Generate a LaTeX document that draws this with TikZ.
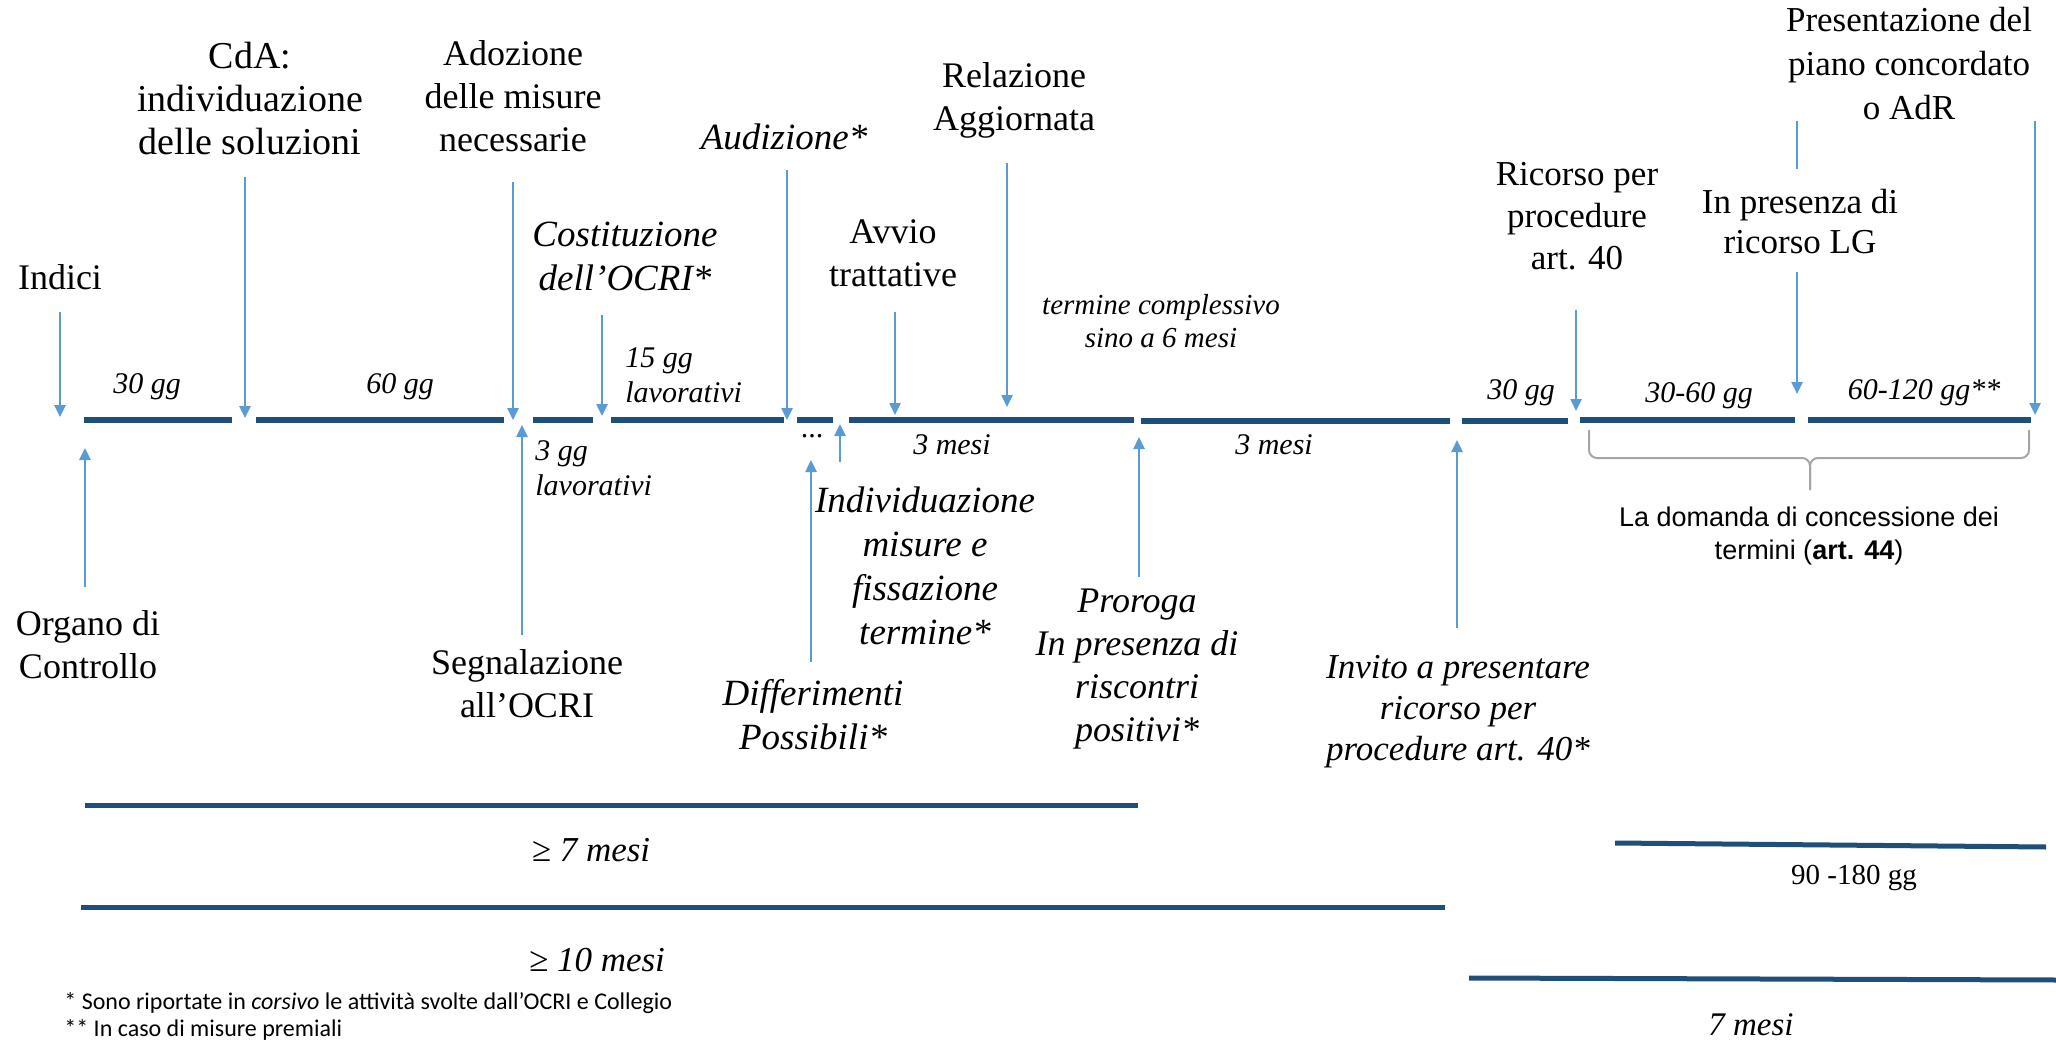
\documentclass[tikz,border=0pt]{standalone}
\usepackage{fontspec}
\setmainfont{Liberation Serif}
\newfontfamily\arialfont{Liberation Sans}
\newfontfamily\calibrifont{Carlito}
\usetikzlibrary{arrows.meta}

\definecolor{barblue}{RGB}{31,78,121}
\definecolor{arrowblue}{RGB}{91,155,213}
\definecolor{bracegrey}{RGB}{166,166,166}

\begin{document}
\begin{tikzpicture}[%
    x=0.5pt, y=-0.5pt,
    event/.style={%
        align=center,
        inner sep=0pt,
        font=\fontsize{18}{21.5}\selectfont
    },
    ocri/.style={%
        align=center,
        inner sep=0pt,
        font=\fontsize{18.5}{22}\selectfont\itshape
    },
    span/.style={%
        align=center,
        inner sep=0pt,
        font=\fontsize{15}{17.5}\selectfont\itshape
    },
    total/.style={%
        inner sep=0pt,
        font=\fontsize{17.5}{21}\selectfont\itshape
    },
    footnote/.style={%
        anchor=west,
        inner sep=0pt,
        font=\fontsize{12}{13.5}\selectfont\calibrifont
    },
    bar/.style={line width=3pt, barblue},
    totalBar/.style={line width=2.5pt, barblue},
    evLine/.style={line width=1.25pt, arrowblue},
    evArrow/.style={evLine, -{Triangle[width=5.5pt,length=6pt]}},
    brace/.style={line width=1pt, bracegrey, rounded corners=4pt}
]
\useasboundingbox (0,0) rectangle (2056,1048);

% Timeline
    \draw[bar] (84,420) -- (232,420);
    \draw[bar] (256,420) -- (504,420);
    \draw[bar] (533,420) -- (593,420);
    \draw[bar] (611,420) -- (784,420);
    \draw[bar] (797,420) -- (833,420);
    \draw[bar] (849,420) -- (1134,420);
    \draw[bar] (1141,421) -- (1450,421);
    \draw[bar] (1462,421) -- (1568,421);
    \draw[bar] (1580,420) -- (1795,420);
    \draw[bar] (1808,420) -- (2031,420);

% Events above the timeline
    \node[event] (indici) at (60,277) {Indici};
    \node[event, font=\fontsize{19}{21.5}\selectfont] (cda) at (250,99) {CdA:\\individuazione\\delle soluzioni};
    \node[event] (adozione) at (513,96) {Adozione\\delle misure\\necessarie};
    \node[ocri] (costituzione) at (625,256) {Costituzione\\dell’OCRI*};
    \node[ocri] (audizione) at (784,137) {Audizione*};
    \node[event] (avvio) at (893,253) {Avvio\\trattative};
    \node[event] (relazione) at (1014,100) {Relazione\\Aggiornata};
    \node[event, font=\fontsize{17.5}{21}\selectfont] (ricorso) at (1577,216) {Ricorso per\\procedure\\art. 40};
    \node[event, font=\fontsize{17.5}{20}\selectfont] (ricorsoLG) at (1800,222) {In presenza di\\ricorso LG};
    \node[event, font=\fontsize{17.5}{22}\selectfont] (piano) at (1909,64) {Presentazione del\\piano concordato\\o AdR};

% Durations
    \node[span] (gg30a) at (147,387) {30 gg};
    \node[span] (gg60) at (400,387) {60 gg};
    \node[span, align=left, anchor=west] (gg15) at (625,375) {15 gg\\lavorativi};
    \node[span, align=left, anchor=west] (gg3) at (535,468) {3 gg\\lavorativi};
    \node[span, font=\fontsize{15}{17}\selectfont] (dots) at (812,436) {...};
    \node[span] (mesi3a) at (952,445) {3 mesi};
    \node[span] (mesi3b) at (1274,445) {3 mesi};
    \node[span, font=\fontsize{14.5}{16.5}\selectfont\itshape] (termine) at (1161,321) {termine complessivo\\sino a 6 mesi};
    \node[span] (gg30b) at (1521,393) {30 gg};
    \node[span] (gg3060) at (1699,396) {30-60 gg};
    \node[span] (gg60120) at (1924,393) {60-120 gg**};

% Events below the timeline
    \node[event] (organo) at (88,645) {Organo di\\Controllo};
    \node[event] (segnalazione) at (527,684) {Segnalazione\\all’OCRI};
    \node[ocri] (differimenti) at (813,715) {Differimenti\\Possibili*};
    \node[ocri] (individuazione) at (925,566) {Individuazione\\misure e\\fissazione\\termine*};
    \node[ocri, font=\fontsize{18}{21.5}\selectfont\itshape] (proroga) at (1137,669) {Proroga\\In presenza di\\riscontri\\positivi*};
    \node[ocri, font=\fontsize{17.5}{20.5}\selectfont\itshape] (invito) at (1458,712) {Invito a presentare\\ricorso per\\procedure art. 40*};

% Art. 44 bracket
    \coordinate (braceL) at (1589,430);
    \coordinate (braceTip) at (1810,490);
    \coordinate (braceR) at (2029,430);
    \draw[brace] (braceL) |- (1810,458) -- (braceTip);
    \draw[brace] (braceR) |- (1810,458) -- (braceTip);
    \node[align=center, inner sep=0pt, font=\fontsize{13.5}{16.5}\selectfont\arialfont] (domanda) at (1809,536) {La domanda di concessione dei\\termini (\textbf{art. 44})};

% Totals
    \draw[totalBar] (85,805) -- (1138,805);
    \node[total] (mesi7) at (591,850) {≥ 7 mesi};
    \draw[totalBar] (81,907) -- (1445,907);
    \node[total] (mesi10) at (597,960) {≥ 10 mesi};
    \draw[totalBar] (1615,843) -- (2046,847);
    \node[inner sep=0pt, font=\fontsize{14.5}{17}\selectfont] (gg90180) at (1854,878) {90 -180 gg};
    \draw[totalBar] (1469,978) -- (2056,980);
    \node[total, font=\fontsize{16.5}{20}\selectfont\itshape] (mesi7b) at (1751,1025) {7 mesi};

% Footnotes
    \node[footnote] (note1) at (64,1003) {* Sono riportate in \textit{corsivo} le attività svolte dall’OCRI e Collegio};
    \node[footnote] (note2) at (64,1030) {** In caso di misure premiali};

% Arrow ends
    \coordinate (indiciT) at (60,312);     \coordinate (indiciH) at (60,417);
    \coordinate (cdaT) at (245,177);       \coordinate (cdaH) at (245,418);
    \coordinate (adozioneT) at (513,182);  \coordinate (adozioneH) at (513,420);
    \coordinate (costT) at (602,315);      \coordinate (costH) at (602,416);
    \coordinate (audT) at (787,170);       \coordinate (audH) at (787,420);
    \coordinate (avvioT) at (895,312);     \coordinate (avvioH) at (895,415);
    \coordinate (relT) at (1007,163);      \coordinate (relH) at (1007,407);
    \coordinate (ricorsoT) at (1576,310);  \coordinate (ricorsoH) at (1576,411);
    \coordinate (lgTop) at (1797,121);     \coordinate (lgGap) at (1797,169);
    \coordinate (lgT) at (1797,272);       \coordinate (lgH) at (1797,394);
    \coordinate (pianoT) at (2035,121);    \coordinate (pianoH) at (2035,415);

    \coordinate (organoT) at (85,587);     \coordinate (organoH) at (85,448);
    \coordinate (segnT) at (522,635);      \coordinate (segnH) at (522,425);
    \coordinate (diffT) at (811,662);      \coordinate (diffH) at (811,460);
    \coordinate (indT) at (840,462);       \coordinate (indH) at (840,424);
    \coordinate (proT) at (1139,577);      \coordinate (proH) at (1139,437);
    \coordinate (invT) at (1457,628);      \coordinate (invH) at (1457,440);

% Arrows
\draw[evArrow] (indiciT) -- (indiciH);
\draw[evArrow] (cdaT) -- (cdaH);
\draw[evArrow] (adozioneT) -- (adozioneH);
\draw[evArrow] (costT) -- (costH);
\draw[evArrow] (audT) -- (audH);
\draw[evArrow] (avvioT) -- (avvioH);
\draw[evArrow] (relT) -- (relH);
\draw[evArrow] (ricorsoT) -- (ricorsoH);
\draw[evLine] (lgTop) -- (lgGap);
\draw[evArrow] (lgT) -- (lgH);
\draw[evArrow] (pianoT) -- (pianoH);

\draw[evArrow] (organoT) -- (organoH);
\draw[evArrow] (segnT) -- (segnH);
\draw[evArrow] (diffT) -- (diffH);
\draw[evArrow] (indT) -- (indH);
\draw[evArrow] (proT) -- (proH);
\draw[evArrow] (invT) -- (invH);

\end{tikzpicture}
\end{document}
